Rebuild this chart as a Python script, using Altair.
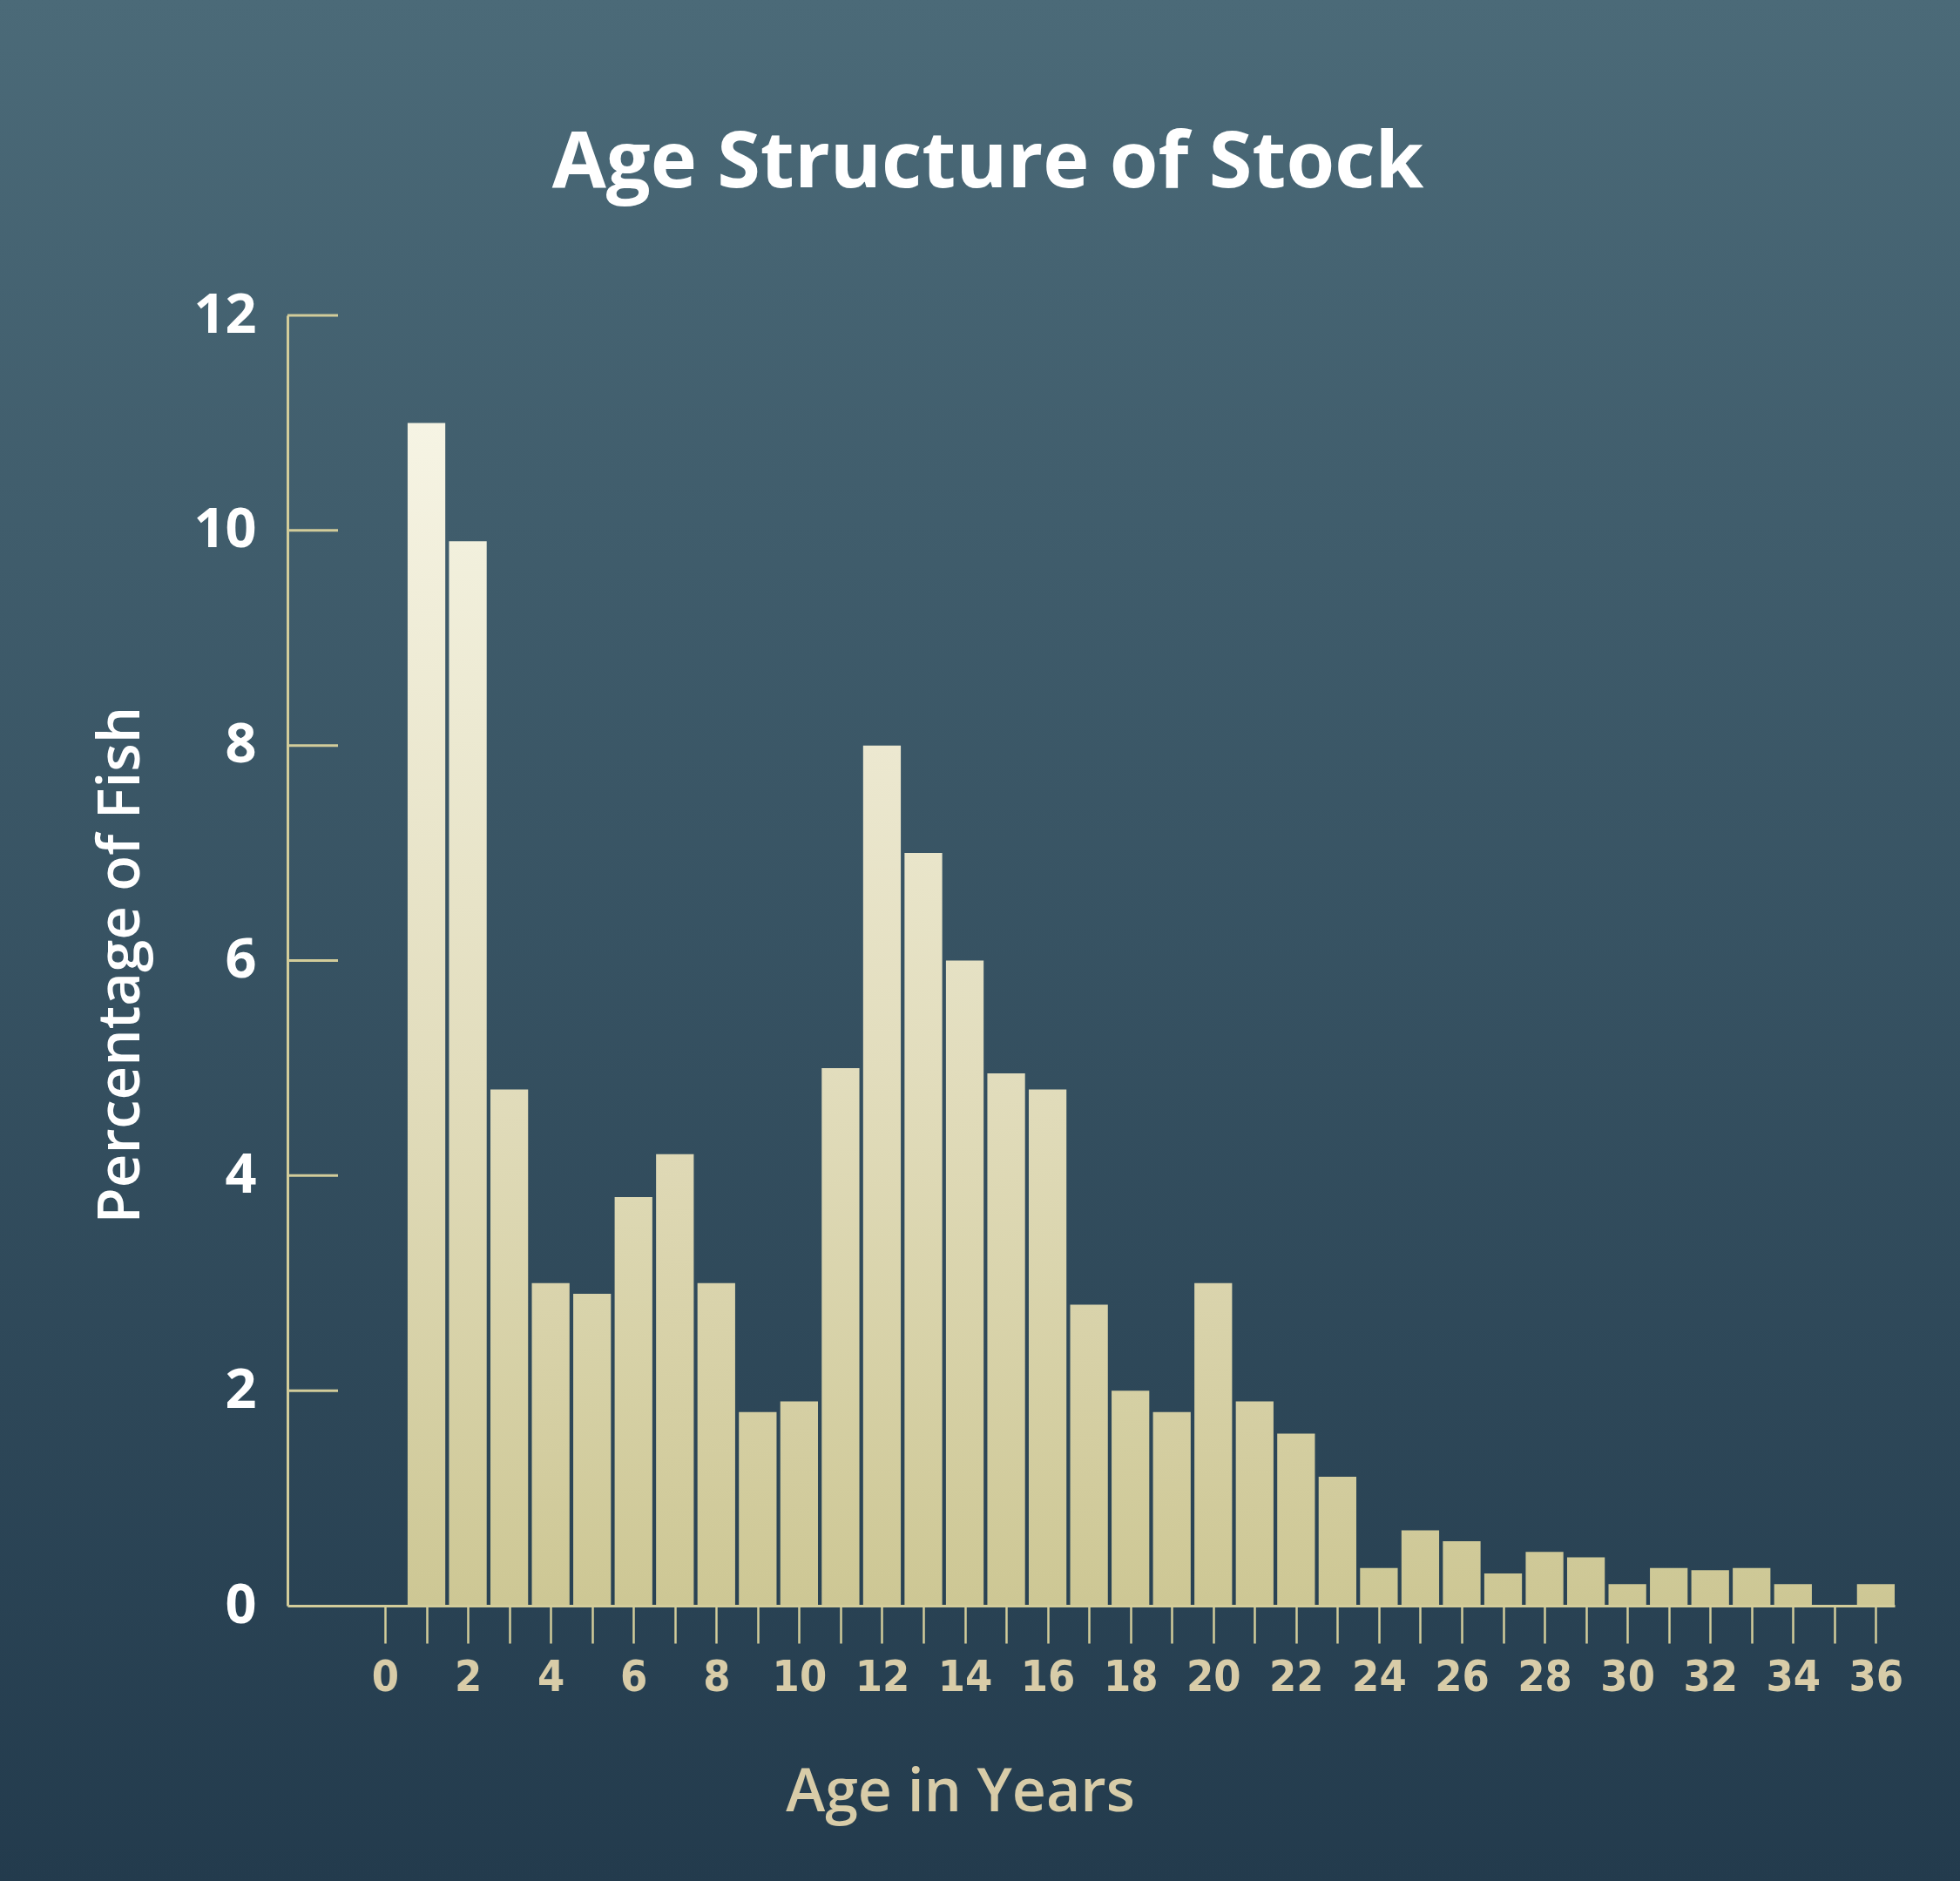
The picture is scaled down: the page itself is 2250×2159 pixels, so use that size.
import altair as alt
import pandas as pd

# ---------------- data ----------------
ages = list(range(37))
pct = [0, 11.0, 9.9, 4.8, 3.0, 2.9, 3.8, 4.2, 3.0, 1.8,
       1.9, 5.0, 8.0, 7.0, 6.0, 4.95, 4.8, 2.8, 2.0, 1.8,
       3.0, 1.9, 1.6, 1.2, 0.35, 0.7, 0.6, 0.3, 0.5, 0.45,
       0.2, 0.35, 0.33, 0.35, 0.2, 0, 0.2]
y_tick_values = [0, 2, 4, 6, 8, 10, 12]
y_inner_ticks = [2, 4, 6, 8, 10, 12]
x_tick_values = list(range(37))
chart_title = ["Age Structure of Stock"]

# ---------------- style ----------------
BG_TOP = "#4b6a78"
BG_BOTTOM = "#233b4d"
AXIS_COLOR = "#d2cc9a"
LABEL_COLOR = "#d8cca8"
BAR_STOPS = [(0, "#cdc794"), (5, "#e2ddbd"), (11, "#f6f4e4")]

W, H = 1845, 1481
PAD = {"left": 330, "top": 362, "right": 75, "bottom": 316}


def _hex(c):
    c = c.lstrip("#")
    return [int(c[i:i + 2], 16) for i in (0, 2, 4)]


def color_at(v):
    if v <= BAR_STOPS[0][0]:
        return BAR_STOPS[0][1]
    for (s0, c0), (s1, c1) in zip(BAR_STOPS, BAR_STOPS[1:]):
        if v <= s1:
            t = (v - s0) / (s1 - s0)
            a, b = _hex(c0), _hex(c1)
            return "#" + "".join(f"{round(a[i] + t * (b[i] - a[i])):02x}" for i in range(3))
    return BAR_STOPS[-1][1]


def bar_gradient(v):
    stops = [(0.0, color_at(v))]
    for s, c in BAR_STOPS:
        if 0 < s < v:
            stops.append(((v - s) / v, c))
    stops.append((1.0, color_at(0)))
    stops.sort(key=lambda p: p[0])
    return alt.Gradient(gradient="linear",
                        stops=[alt.GradientStop(offset=o, color=c) for o, c in stops],
                        x1=0, x2=0, y1=0, y2=1)


df = pd.DataFrame({"age": ages, "pct": pct})
half = 0.455
x_scale = alt.Scale(domain=[-2.356, 36 + half], nice=False, zero=False)
y_scale = alt.Scale(domain=[0, 12], nice=False)

x_axis = alt.Axis(values=x_tick_values,
                  labelExpr="datum.value % 2 == 0 ? datum.label : ''",
                  domainColor=AXIS_COLOR, domainWidth=3,
                  tickColor=AXIS_COLOR, tickWidth=2.5, tickSize=43,
                  labelFont="DejaVu Sans Condensed",
                  labelFontWeight="bold", labelFontSize=50, labelColor=LABEL_COLOR,
                  labelPadding=14, labelOverlap=False, labelFlush=False,
                  grid=False, zindex=1,
                  title="Age in Years", titleFont="Open Sans", titleFontWeight=600,
                  titleFontSize=68, titleColor=LABEL_COLOR,
                  titleX=772, titleY=235, titleAlign="center",
                  titleBaseline="alphabetic")

y_axis = alt.Axis(values=y_tick_values, ticks=False, tickSize=0,
                  domainColor=AXIS_COLOR, domainWidth=3,
                  labelFont="Open Sans", labelFontWeight="bold", labelFontSize=63,
                  labelColor="white", labelPadding=36, grid=False, zindex=1,
                  title="Percentage of Fish", titleFont="Open Sans",
                  titleFontWeight=600, titleFontSize=67, titleColor="white",
                  titleAngle=-90, titleX=-171, titleY=745, titleAlign="center",
                  titleBaseline="alphabetic")

# background gradient over the whole canvas
bg = alt.Chart(pd.DataFrame({"k": [0]})).mark_rect(
    fill=alt.Gradient(gradient="linear",
                      stops=[alt.GradientStop(offset=0, color=BG_TOP),
                             alt.GradientStop(offset=1, color=BG_BOTTOM)],
                      x1=0, x2=0, y1=0, y2=1)
).encode(x=alt.value(-PAD["left"]), x2=alt.value(W + PAD["right"]),
         y=alt.value(-PAD["top"]), y2=alt.value(H + PAD["bottom"]))

layers = [bg]
for a, v in zip(ages, pct):
    if v <= 0:
        continue
    layers.append(
        alt.Chart(df).transform_filter(alt.datum.age == a)
        .transform_calculate(x0=f"datum.age - {half}", x1=f"datum.age + {half}", base="0")
        .mark_rect(fill=bar_gradient(v), strokeWidth=0)
        .encode(x=alt.X("x0:Q", scale=x_scale, axis=x_axis),
                x2="x1:Q",
                y=alt.Y("pct:Q", scale=y_scale, axis=y_axis),
                y2="base:Q")
    )

ticks = alt.Chart(pd.DataFrame({"v": y_inner_ticks})).mark_rule(
    color=AXIS_COLOR, strokeWidth=3
).encode(y=alt.Y("v:Q", scale=y_scale, axis=y_axis),
         x=alt.value(0), x2=alt.value(58))
layers.append(ticks)

title = alt.Chart(pd.DataFrame({"t": chart_title})).mark_text(
    font="Open Sans", fontSize=90, fontWeight="bold", color="white",
    align="center", baseline="alphabetic"
).encode(text="t:N", x=alt.value(804), y=alt.value(-147))
layers.append(title)

chart = alt.layer(*layers).properties(
    width=W, height=H,
    padding=PAD,
    autosize=alt.AutoSizeParams(type="none"),
    background=BG_BOTTOM,
).configure_view(stroke=None)

chart.save("out.html", embed_options={"renderer": "svg", "actions": False})
